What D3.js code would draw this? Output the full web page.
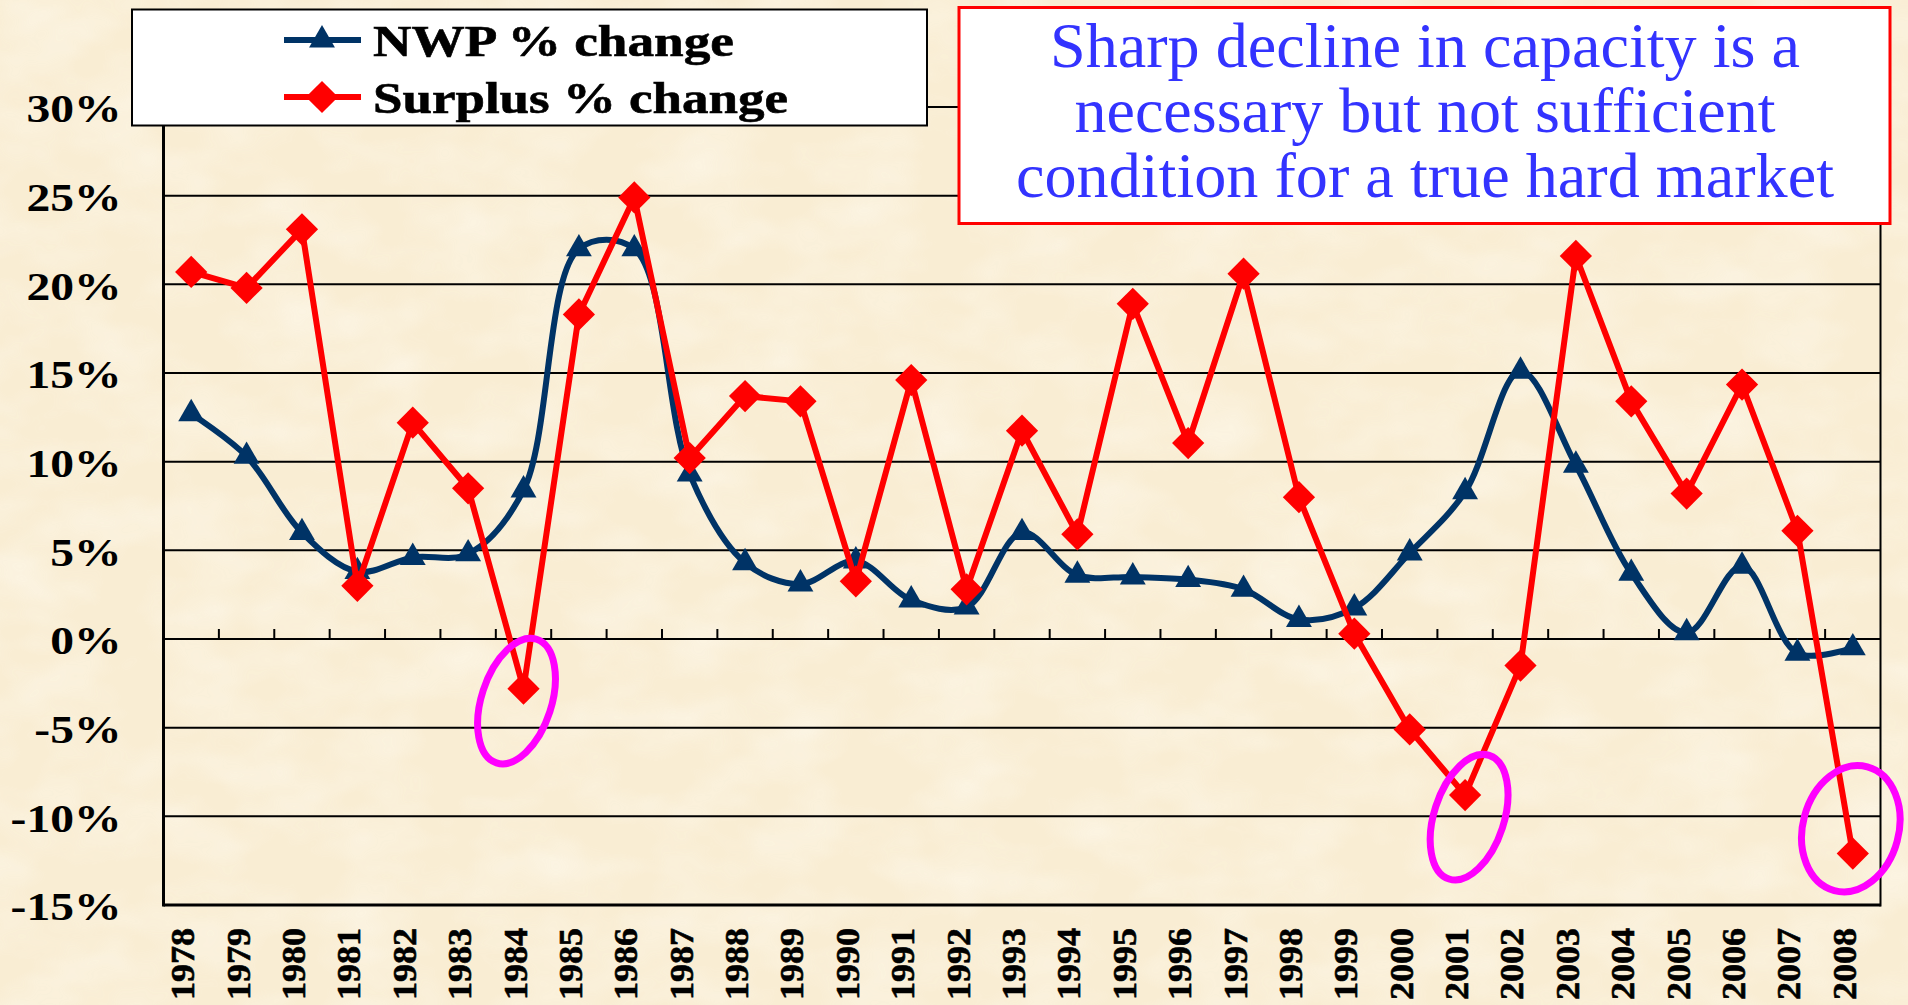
<!DOCTYPE html>
<html>
<head>
<meta charset="utf-8">
<script src="https://cdn.jsdelivr.net/npm/d3@7"></script>
<style>
  html, body { margin: 0; padding: 0; background: #faefd7; overflow: hidden; }
  svg { display: block; }
  text { font-family: "Liberation Serif", "Times New Roman", Times, serif; }
</style>
</head>
<body>
<div id="chart"></div>
<script>
// data
var years = ["1978","1979","1980","1981","1982","1983","1984","1985","1986","1987",
             "1988","1989","1990","1991","1992","1993","1994","1995","1996","1997",
             "1998","1999","2000","2001","2002","2003","2004","2005","2006","2007","2008"];
var nwpChange = [12.7, 10.3, 6.0, 3.8, 4.6, 4.8, 8.4, 22.0, 22.0, 9.3,
                 4.3, 3.1, 4.4, 2.2, 1.8, 6.0, 3.6, 3.5, 3.35, 2.8,
                 1.1, 1.75, 4.85, 8.3, 15.1, 9.8, 3.7, 0.35, 4.1, -0.8, -0.5];
var surplusChange = [20.7, 19.8, 23.1, 3.0, 12.2, 8.5, -2.8, 18.3, 24.9, 10.2,
                     13.7, 13.4, 3.25, 14.6, 2.8, 11.75, 5.9, 18.9, 11.05, 20.6,
                     8.0, 0.3, -5.1, -8.8, -1.5, 21.6, 13.4, 8.2, 14.35, 6.1, -12.1];
var yTicks = [30, 25, 20, 15, 10, 5, 0, -5, -10, -15];
var seriesNames = ["NWP % change", "Surplus % change"];
var noteLines = ["Sharp decline in capacity is a",
                 "necessary but not sufficient",
                 "condition for a true hard market"];

var W = 1908, H = 1005;
var plotL = 163.5, plotR = 1880.5, plotT = 107, plotB = 905;

var svg = d3.select("#chart").append("svg")
    .attr("width", W)
    .attr("height", H);

// parchment texture
var defs = svg.append("defs");
var f = defs.append("filter").attr("id", "paper").attr("x", 0).attr("y", 0).attr("width", "100%").attr("height", "100%");
f.append("feTurbulence").attr("type", "fractalNoise").attr("baseFrequency", "0.012 0.02").attr("numOctaves", 3).attr("seed", 4);
f.append("feColorMatrix").attr("type", "matrix")
    .attr("values", "0 0 0 0 0.99  0 0 0 0 0.96  0 0 0 0 0.88  0 0 0 -1.2 0.75");
svg.append("rect").attr("width", W).attr("height", H).attr("fill", "#f9edd3");
svg.append("rect").attr("width", W).attr("height", H).attr("filter", "url(#paper)").attr("opacity", 0.8);

var x = d3.scaleBand().domain(years).range([plotL, plotR]);
var cx = function (d) { return x(d) + x.bandwidth() / 2; };
var y = d3.scaleLinear().domain([-15, 30]).range([plotB, plotT]);

// gridlines
svg.append("g")
    .selectAll("line")
    .data(yTicks)
    .enter()
    .append("line")
    .attr("x1", plotL).attr("x2", plotR)
    .attr("y1", function (d) { return y(d); })
    .attr("y2", function (d) { return y(d); })
    .attr("stroke", "#000")
    .attr("stroke-width", function (d) { return d === -15 ? 3 : 2; });

// plot frame sides
svg.append("line").attr("x1", plotL).attr("x2", plotL).attr("y1", plotT).attr("y2", plotB + 1.5)
    .attr("stroke", "#000").attr("stroke-width", 3);
svg.append("line").attr("x1", plotR).attr("x2", plotR).attr("y1", plotT).attr("y2", plotB + 1.5)
    .attr("stroke", "#000").attr("stroke-width", 2);

// y axis labels
var yAxis = svg.append("g")
    .attr("transform", "translate(" + plotL + ",0)")
    .call(d3.axisLeft(y).tickValues(yTicks).tickSize(0).tickFormat(function (d) { return d + "%"; }));
yAxis.select(".domain").remove();
yAxis.selectAll("text")
    .attr("x", -42 / 1.16)
    .attr("dy", "0.36em")
    .attr("transform", "scale(1.16,1)")
    .style("font-family", "'Liberation Serif', serif")
    .attr("font-weight", "bold")
    .attr("font-size", 41)
    .attr("fill", "#000");

// category ticks on the 0% line
svg.append("g")
    .selectAll("line")
    .data(years.slice(1))
    .enter()
    .append("line")
    .attr("x1", function (d) { return x(d); })
    .attr("x2", function (d) { return x(d); })
    .attr("y1", y(0))
    .attr("y2", y(0) - 10)
    .attr("stroke", "#000")
    .attr("stroke-width", 2);

// x labels, rotated
svg.append("g")
    .selectAll("text")
    .data(years)
    .enter()
    .append("text")
    .attr("transform", function (d) { return "translate(" + (cx(d) + 3) + ",928) rotate(-90)"; })
    .attr("text-anchor", "end")
    .attr("font-weight", "bold")
    .attr("font-size", 33)
    .attr("textLength", 72)
    .attr("lengthAdjust", "spacingAndGlyphs")
    .attr("fill", "#000")
    .attr("stroke", "#000")
    .attr("stroke-width", 0.6)
    .text(function (d) { return d; });

var navy = "#003366", red = "#ff0000";
var triangle = d3.symbol().type(d3.symbolTriangle).size(290);
var diamond = d3.symbol().type(d3.symbolSquare).size(520);

// NWP series (smoothed)
svg.append("path")
    .datum(nwpChange)
    .attr("fill", "none")
    .attr("stroke", navy)
    .attr("stroke-width", 6)
    .attr("stroke-linejoin", "round")
    .attr("d", d3.line()
        .x(function (d, i) { return cx(years[i]); })
        .y(function (d) { return y(d); })
        .curve(d3.curveCatmullRom.alpha(0.5)));
svg.append("g")
    .selectAll("path")
    .data(nwpChange)
    .enter()
    .append("path")
    .attr("d", triangle)
    .attr("transform", function (d, i) { return "translate(" + cx(years[i]) + "," + y(d) + ")"; })
    .attr("fill", navy);

// Surplus series
svg.append("path")
    .datum(surplusChange)
    .attr("fill", "none")
    .attr("stroke", red)
    .attr("stroke-width", 6)
    .attr("stroke-linejoin", "round")
    .attr("d", d3.line()
        .x(function (d, i) { return cx(years[i]); })
        .y(function (d) { return y(d); }));
svg.append("g")
    .selectAll("path")
    .data(surplusChange)
    .enter()
    .append("path")
    .attr("d", diamond)
    .attr("transform", function (d, i) { return "translate(" + cx(years[i]) + "," + y(d) + ") rotate(45)"; })
    .attr("fill", red);

// magenta rings around the deepest surplus drops
var rings = [
    { year: "1984", value: -3.5, dx: -7, rx: 35, ry: 65, angle: 18 },
    { year: "2001", value: -10.05, dx: 4, rx: 35, ry: 65, angle: 18 },
    { year: "2008", value: -10.7, dx: -2, rx: 48, ry: 64, angle: 15 }
];
svg.append("g")
    .selectAll("ellipse")
    .data(rings)
    .enter()
    .append("ellipse")
    .attr("transform", function (d) { return "translate(" + (cx(d.year) + d.dx) + "," + y(d.value) + ") rotate(" + d.angle + ")"; })
    .attr("rx", function (d) { return d.rx; })
    .attr("ry", function (d) { return d.ry; })
    .attr("fill", "none")
    .attr("stroke", "#ff00ff")
    .attr("stroke-width", 7);

// legend
var legend = svg.append("g");
legend.append("rect")
    .attr("x", 132).attr("y", 9.5).attr("width", 795).attr("height", 116)
    .attr("fill", "#fff").attr("stroke", "#000").attr("stroke-width", 2);
var legendRows = [
    { name: seriesNames[0], color: navy, sym: triangle, rot: 0, ly: 40, ty: 56, len: 361 },
    { name: seriesNames[1], color: red, sym: diamond, rot: 45, ly: 97, ty: 113, len: 415 }
];
legendRows.forEach(function (r) {
    legend.append("line").attr("x1", 284).attr("x2", 361).attr("y1", r.ly).attr("y2", r.ly)
        .attr("stroke", r.color).attr("stroke-width", 6);
    legend.append("path").attr("d", r.sym)
        .attr("transform", "translate(322," + r.ly + ") rotate(" + r.rot + ")")
        .attr("fill", r.color);
    legend.append("text")
        .attr("x", 373).attr("y", r.ty)
        .attr("font-weight", "bold")
        .attr("font-size", 44)
        .attr("textLength", r.len)
        .attr("lengthAdjust", "spacingAndGlyphs")
        .attr("fill", "#000")
        .attr("stroke", "#000")
        .attr("stroke-width", 0.6)
        .text(r.name);
});

// note box
var note = svg.append("g");
note.append("rect")
    .attr("x", 959).attr("y", 7.5).attr("width", 931).attr("height", 216)
    .attr("fill", "#fff").attr("stroke", "#ff0000").attr("stroke-width", 3);
var noteLen = [750, 701, 818];
note.selectAll("text")
    .data(noteLines)
    .enter()
    .append("text")
    .attr("x", 1425)
    .attr("y", function (d, i) { return 66.7 + i * 65; })
    .attr("text-anchor", "middle")
    .attr("font-size", 63)
    .attr("textLength", function (d, i) { return noteLen[i]; })
    .attr("lengthAdjust", "spacingAndGlyphs")
    .attr("fill", "#3333ff")
    .text(function (d) { return d; });
</script>
</body>
</html>
